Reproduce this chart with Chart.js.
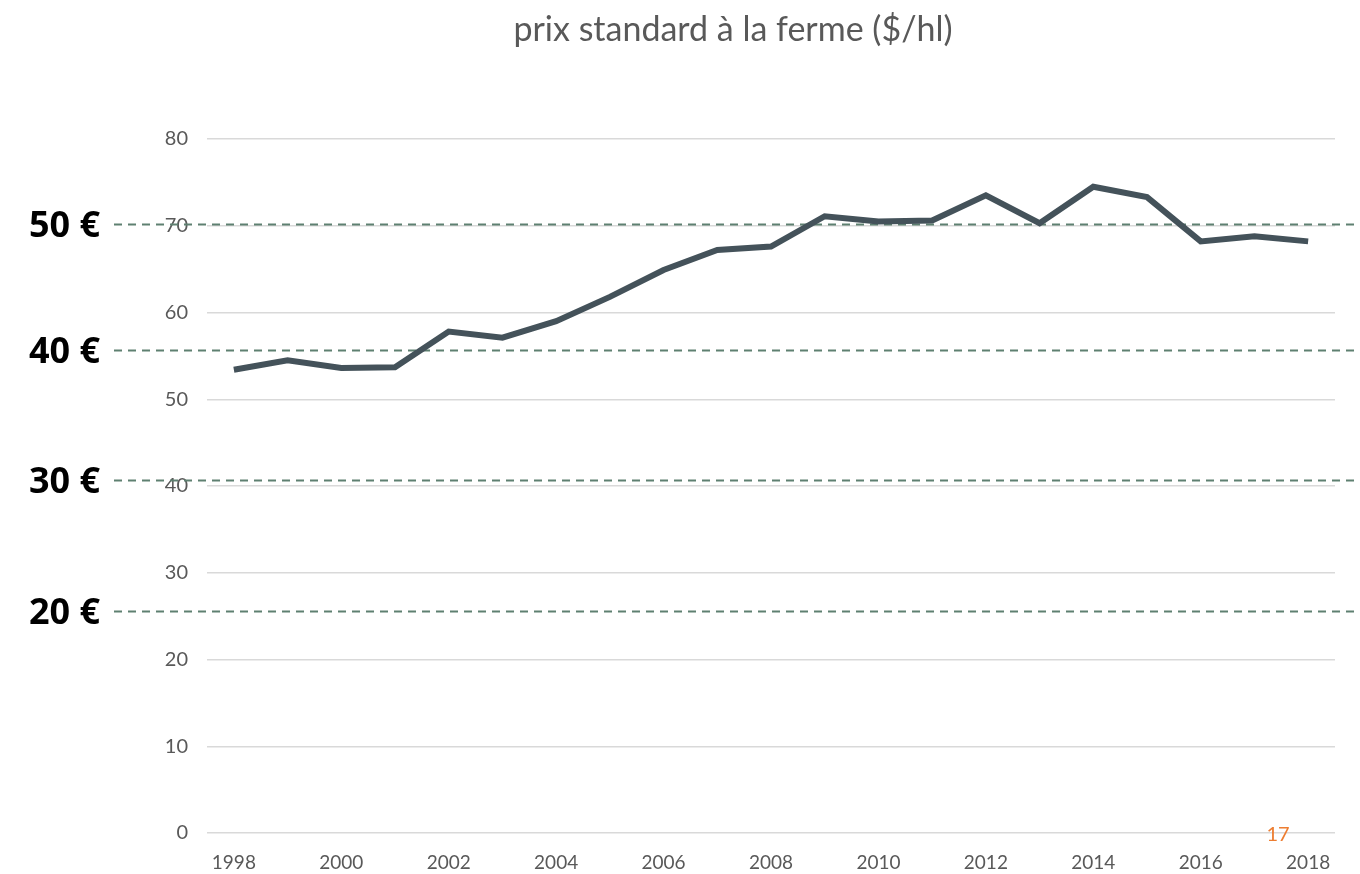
<!DOCTYPE html>
<html>
<head>
<meta charset="utf-8">
<script src="https://cdn.jsdelivr.net/npm/chart.js@4.4.1/dist/chart.umd.min.js"></script>
<style>
	html, body { margin: 0; padding: 0; background: #fff; }
	#wrap { width: 1360px; height: 874px; }
</style>
</head>
<body>
<div id="wrap"><canvas id="prix"></canvas></div>
<script>
// années et prix standard à la ferme ($/hl)
const years = ["1998","1999","2000","2001","2002","2003","2004","2005","2006","2007","2008",
	"2009","2010","2011","2012","2013","2014","2015","2016","2017","2018"];
const prix = [53.4, 54.5, 53.6, 53.7, 57.8, 57.1, 59.0, 61.8, 64.9, 67.2, 67.6,
	71.1, 70.5, 70.6, 73.5, 70.3, 74.5, 73.3, 68.2, 68.8, 68.2];

// repères en euros, placés sur l'échelle $/hl
const euroLabels = ["50 €", "40 €", "30 €", "20 €"];
const euroValues = [70.2, 55.7, 40.7, 25.6];

const titre = "prix standard à la ferme ($/hl)";
const pageNumber = "17";

const extras = {
	id: "extras",
	beforeDatasetsDraw(chart) {
		const ctx = chart.ctx;
		const y = chart.scales.y;
		ctx.save();
		ctx.strokeStyle = "#5e8071";
		ctx.lineWidth = 2;
		ctx.setLineDash([8, 6]);
		for (let i = 0; i < euroValues.length; i++) {
			let py = Math.round(y.getPixelForValue(euroValues[i])) + 0.5;
			ctx.beginPath();
			ctx.moveTo(114, py);
			ctx.lineTo(chart.width, py);
			ctx.stroke();
		}
		ctx.setLineDash([]);
		ctx.fillStyle = "#000";
		ctx.font = "bold 36px 'Open Sans'";
		ctx.textAlign = "right";
		ctx.textBaseline = "middle";
		for (let i = 0; i < euroLabels.length; i++) {
			let py = y.getPixelForValue(euroValues[i]);
			ctx.fillText(euroLabels[i], 100, py + 3);
		}
		ctx.restore();
	},
	afterDraw(chart) {
		const ctx = chart.ctx;
		ctx.save();
		ctx.fillStyle = "#595959";
		ctx.font = "34px Lato";
		ctx.textAlign = "center";
		ctx.textBaseline = "middle";
		ctx.fillText(titre, 733, 30);
		ctx.fillStyle = "#ed7d31";
		ctx.font = "20px Lato";
		ctx.fillText(pageNumber, 1278, 835);
		ctx.restore();
	}
};

new Chart(document.getElementById("prix"), {
	type: "line",
	data: {
		labels: years,
		datasets: [{
			label: titre,
			data: prix,
			borderColor: "#44525a",
			borderWidth: 6,
			pointRadius: 0,
			tension: 0,
			fill: false
		}]
	},
	options: {
		responsive: true,
		maintainAspectRatio: false,
		animation: false,
		layout: { padding: { top: 139, right: 25, left: 0, bottom: 0 } },
		plugins: {
			legend: { display: false },
			tooltip: { enabled: false },
			title: { display: false }
		},
		scales: {
			x: {
				offset: true,
				grid: { display: false, drawTicks: false },
				border: { display: false },
				ticks: {
					autoSkip: false,
					maxRotation: 0,
					padding: 18,
					color: "#595959",
					font: { family: "Lato", size: 19 },
					callback: function(val, idx) { return idx % 2 === 0 ? this.getLabelForValue(val) : ""; }
				},
				afterFit(scale) { scale.height = 41; }
			},
			y: {
				min: 0,
				max: 80,
				grid: { color: "#d9d9d9", lineWidth: 1.5, drawTicks: false },
				border: { display: false },
				ticks: {
					stepSize: 10,
					padding: 19,
					color: "#595959",
					font: { family: "Lato", size: 20 }
				},
				afterFit(scale) { scale.width = 207; }
			}
		}
	},
	plugins: [extras]
});
</script>
</body>
</html>
